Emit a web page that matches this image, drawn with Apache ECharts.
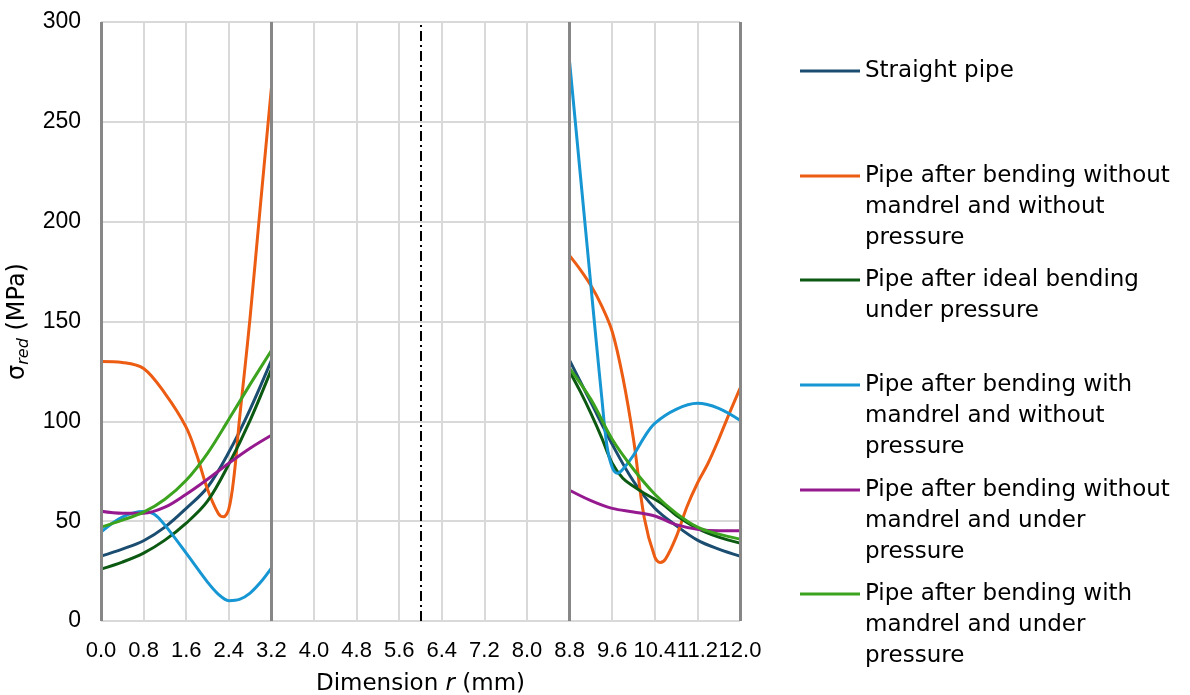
<!DOCTYPE html>
<html><head><meta charset="utf-8">
<script src="https://cdn.jsdelivr.net/npm/echarts@6/dist/echarts.min.js"></script>
<style>html,body{margin:0;padding:0;background:#fff}#c{width:1190px;height:695px}</style>
</head><body><div id="c"></div>
<script>
// ---- data ----
const seriesNames = [
  'Straight pipe',
  'Pipe after bending without mandrel and without pressure',
  'Pipe after ideal bending under pressure',
  'Pipe after bending with mandrel and without pressure',
  'Pipe after bending without mandrel and under pressure',
  'Pipe after bending with mandrel and under pressure'
];
const legendLabels = [
  'Straight pipe',
  'Pipe after bending without\nmandrel and without\npressure',
  'Pipe after ideal bending\nunder pressure',
  'Pipe after bending with\nmandrel and without\npressure',
  'Pipe after bending without\nmandrel and under\npressure',
  'Pipe after bending with\nmandrel and under\npressure'
];
const seriesColors = ['#1a4d70', '#ec5c12', '#0c5a12', '#1696d3', '#961a8f', '#3ca31f'];

const rLeft  = [0, 0.4, 0.8, 1.2, 1.6, 2.0, 2.4, 2.8, 3.2];
const rRight = [8.8, 9.2, 9.6, 10.0, 10.4, 10.8, 11.2, 11.6, 12.0];

const straightLeft  = [32.5, 36, 40.2, 47, 56.4, 67, 84.5, 106, 130.5];
const straightRight = [130.5, 109.5, 88.5, 70, 56.5, 47.8, 40.5, 36, 32.5];

const noMandrelNoPressR_L = [0, 0.4, 0.8, 1.2, 1.6, 1.8, 2.0, 2.2, 2.3, 2.4, 2.5, 2.6, 2.7, 2.8, 3.0, 3.2];
const noMandrelNoPressL   = [130, 129.5, 126.5, 114, 97, 83, 66, 54, 52.2, 56, 73, 101, 126, 152, 210, 267];
const noMandrelNoPressR_R = [8.8, 9.0, 9.2, 9.4, 9.6, 9.8, 10.0, 10.2, 10.4, 10.5, 10.6, 10.8, 11.0, 11.2, 11.4, 11.6, 11.8, 12.0];
const noMandrelNoPressR   = [183, 176, 168, 158, 145, 122, 91, 52, 32, 29.3, 31, 42, 57, 69, 79, 91, 104, 116.5];

const idealLeft    = [26, 29.5, 34, 40.5, 49, 60, 78.5, 100.5, 126];
const idealR_R     = [8.8, 9.0, 9.2, 9.4, 9.6, 9.8, 10.0, 10.2, 10.4, 10.6, 10.8, 11.2, 11.6, 12.0];
const idealRight   = [125, 115, 104, 92, 79, 71.5, 67.5, 64, 61, 57.5, 53, 46.4, 42, 39];

const mandrelNoPressR_L = [0, 0.4, 0.8, 1.0, 1.2, 1.6, 2.0, 2.2, 2.4, 2.6, 2.8, 3.0, 3.2];
const mandrelNoPressL   = [44.5, 52, 54.8, 53.5, 48, 34, 19.5, 13.5, 10.2, 10.8, 14, 19.5, 26.5];
const mandrelNoPressR_R = [8.8, 9.0, 9.2, 9.3, 9.4, 9.5, 9.6, 9.7, 9.8, 10.0, 10.2, 10.4, 10.8, 11.2, 11.6, 12.0];
const mandrelNoPressR   = [280, 224, 168, 140, 113, 88, 77, 74, 76, 83, 92, 99, 106, 109, 106.5, 100.5];

const noMandrelPressLeft  = [55, 54, 54, 57, 63.5, 71, 79, 86.5, 93];
const noMandrelPressRight = [65.5, 60.3, 56.4, 54.6, 52.6, 48.3, 46, 45.2, 45.2];

const mandrelPressLeft  = [47, 50.5, 54.5, 61, 70.5, 84, 101, 118.5, 135.5];
const mandrelPressRight = [126.5, 111, 91, 76, 63.5, 54, 47, 43.5, 41];

const sectionBounds = [0, 3.2, 8.8, 12.0];
const centerLine = 6.0;
const gapAt = 6.0;

// ---- build ----
function seg(xl, yl, xr, yr) {
  const a = xl.map((x, i) => [x, yl[i]]);
  a.push([gapAt, '-']);
  return a.concat(xr.map((x, i) => [x, yr[i]]));
}
const seriesData = [
  seg(rLeft, straightLeft, rRight, straightRight),
  seg(noMandrelNoPressR_L, noMandrelNoPressL, noMandrelNoPressR_R, noMandrelNoPressR),
  seg(rLeft, idealLeft, idealR_R, idealRight),
  seg(mandrelNoPressR_L, mandrelNoPressL, mandrelNoPressR_R, mandrelNoPressR),
  seg(rLeft, noMandrelPressLeft, rRight, noMandrelPressRight),
  seg(rLeft, mandrelPressLeft, rRight, mandrelPressRight)
];

const FONT = 'Liberation Sans, Arial, sans-serif';
const WFONT = 'DejaVu Sans, Liberation Sans, sans-serif';
const legendIconY = [71, 176, 280, 385, 490, 594];
const LH = 31;

const legends = seriesNames.map((name, i) => {
  const n = legendLabels[i].split('\n').length;
  // blank lines before the text keep the icon level with the first text line
  const txt = '\n'.repeat(n - 1) + legendLabels[i];
  return {
    data: [name], left: 800, top: legendIconY[i] - (2 * n - 1) * LH / 2,
    orient: 'vertical', icon: 'rect', itemWidth: 60, itemHeight: 3, padding: 0,
    selectedMode: false,
    formatter: () => txt,
    textStyle: { fontSize: 23, lineHeight: LH, color: '#000', fontFamily: WFONT }
  };
});

const series = seriesNames.map((name, i) => ({
  name, type: 'line', data: seriesData[i], smooth: 0.35, showSymbol: false, symbol: 'none',
  connectNulls: false, color: seriesColors[i],
  lineStyle: { width: 3, color: seriesColors[i] }
}));
series.unshift({
  type: 'line', data: [], silent: true, symbol: 'none',
  markLine: {
    silent: true, symbol: ['none', 'none'], label: { show: false }, animation: false,
    data: sectionBounds.map(v => ({ xAxis: v, lineStyle: { color: '#878787', width: 3, type: 'solid' } }))
      .concat([{ xAxis: centerLine, lineStyle: { color: '#000', width: 2, type: [10, 4, 2, 4] } }])
  }
});

const chart = echarts.init(document.getElementById('c'));
chart.setOption({
  animation: false,
  textStyle: { fontFamily: FONT },
  grid: { left: 101, right: 450, top: 22, bottom: 74, containLabel: false, outerBoundsMode: 'none' },
  legend: legends,
  xAxis: {
    type: 'value', min: 0, max: 12, interval: 0.8,
    name: '{n|Dimension }{i|r}{n| (mm)}', nameLocation: 'middle', nameGap: 52,
    nameTextStyle: { rich: { n: { fontSize: 23, color: '#000', fontFamily: WFONT }, i: { fontSize: 23, color: '#000', fontStyle: 'italic', fontFamily: WFONT } } },
    axisLine: { show: false }, axisTick: { show: false },
    axisLabel: { fontSize: 22, color: '#000', margin: 19, showMaxLabel: true, showMinLabel: true, formatter: v => v.toFixed(1) },
    splitLine: { show: true, lineStyle: { color: '#d9d9d9', width: 2 } }
  },
  yAxis: {
    type: 'value', min: 0, max: 300, interval: 50,
    name: '{s|σ}{sub|red}{s| (MPa)}', nameLocation: 'middle', nameGap: 66,
    nameTextStyle: { rich: {
      s: { fontSize: 24, color: '#000', lineHeight: 28, fontFamily: WFONT },
      sub: { fontSize: 16, color: '#000', fontStyle: 'italic', lineHeight: 16, verticalAlign: 'bottom', fontFamily: WFONT }
    } },
    axisLine: { show: false }, axisTick: { show: false },
    axisLabel: { fontSize: 23, color: '#000', margin: 20 },
    splitLine: { show: true, lineStyle: { color: '#d9d9d9', width: 2 } }
  },
  series
});
</script></body></html>
